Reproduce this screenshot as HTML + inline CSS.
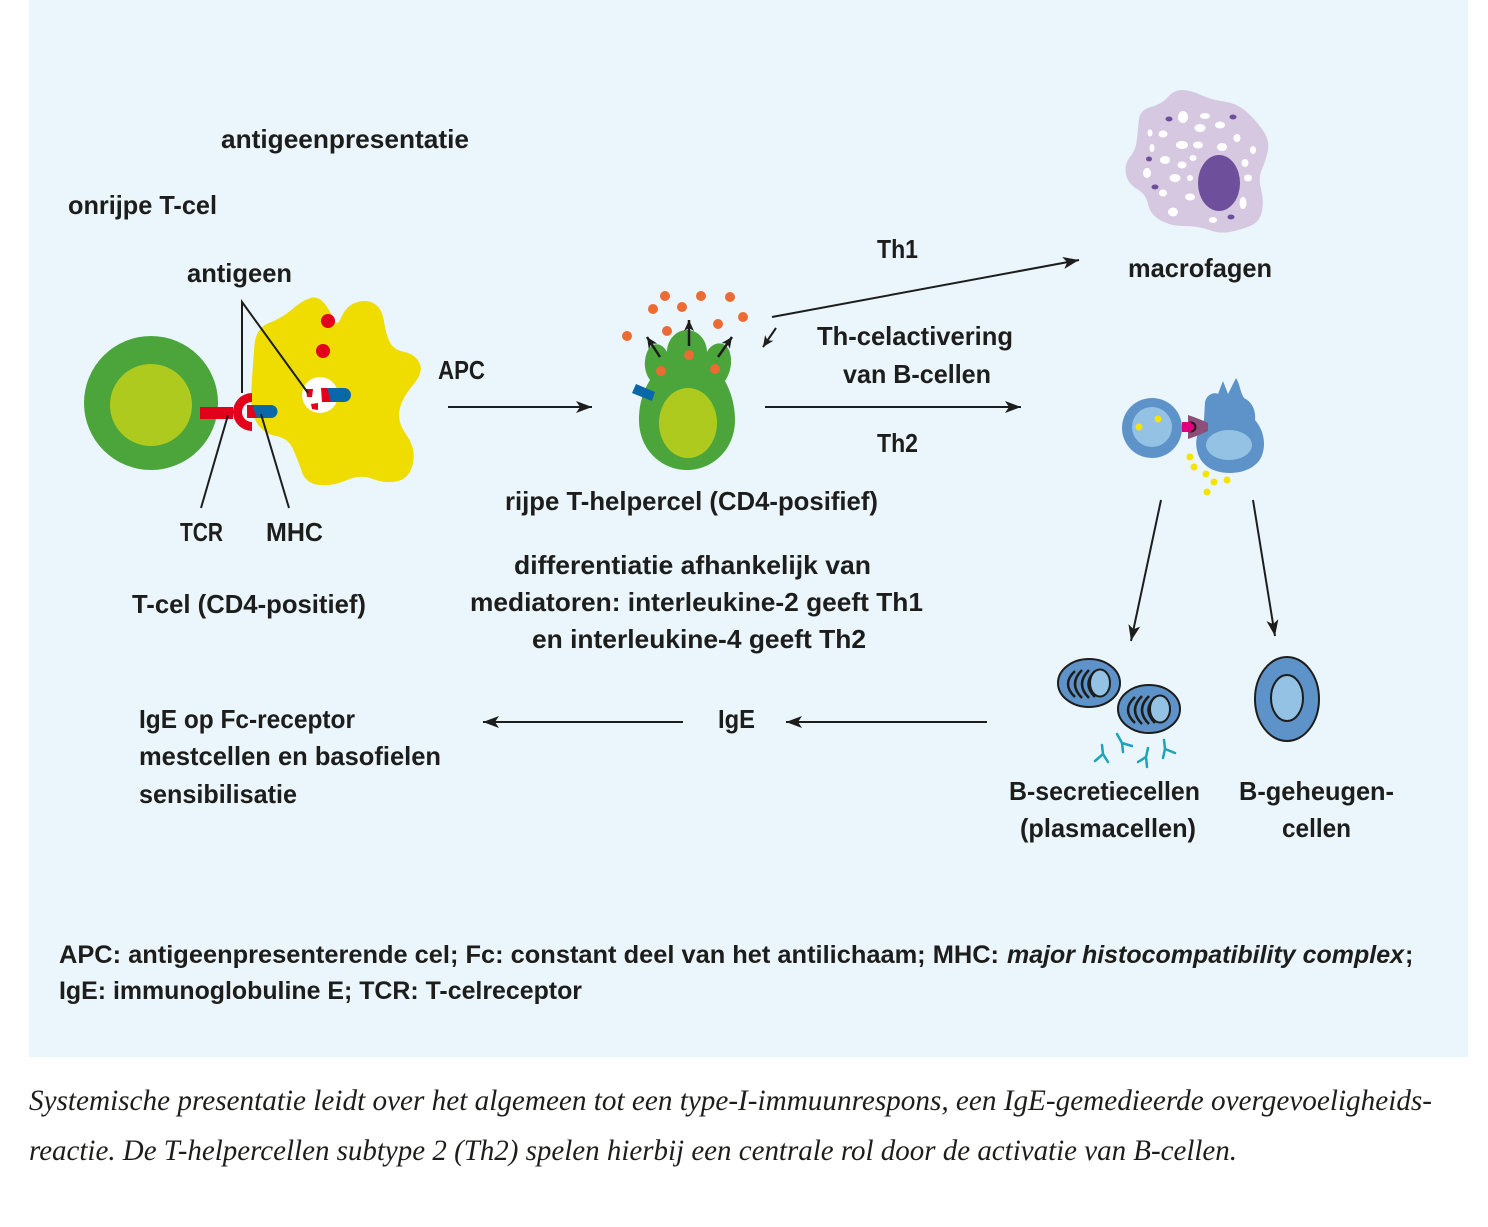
<!DOCTYPE html>
<html>
<head>
<meta charset="utf-8">
<style>
  html,body{margin:0;padding:0;background:#fff;}
  svg{display:block;}
  .t{font-family:"Liberation Sans",sans-serif;font-weight:bold;font-size:26px;fill:#1d1d1b;}
  .f{font-family:"Liberation Sans",sans-serif;font-weight:bold;font-size:25px;fill:#1d1d1b;}
  .fi{font-family:"Liberation Sans",sans-serif;font-weight:bold;font-style:italic;font-size:25px;fill:#1d1d1b;}
  .c{font-family:"Liberation Serif",serif;font-style:italic;font-size:30px;fill:#1d1d1b;}
</style>
</head>
<body>
<svg width="1488" height="1227" viewBox="0 0 1488 1227" xmlns="http://www.w3.org/2000/svg">
  <defs>
    <marker id="ah" markerUnits="userSpaceOnUse" markerWidth="18" markerHeight="14" refX="16" refY="7" orient="auto">
      <path d="M0,1 L16,7 L0,13 L4,7 Z" fill="#1d1d1b"/>
    </marker>
    <marker id="as" markerUnits="userSpaceOnUse" markerWidth="13" markerHeight="12" refX="11" refY="5" orient="auto">
      <path d="M0,0 L11,5 L0,10 L3,5 Z" fill="#1d1d1b"/>
    </marker>
  </defs>

  <rect x="0" y="0" width="1488" height="1227" fill="#ffffff"/>
  <rect x="29" y="0" width="1439" height="1057" fill="#eaf5fc"/>

  <!-- ============ Left: T-cel + APC ============ -->
  <circle cx="151" cy="403" r="67" fill="#4ca53b"/>
  <circle cx="151" cy="405" r="41" fill="#afca1e"/>

  <path d="M310.5,298 Q318,296 324,303 Q330,310 333.5,319 Q337,328 341.5,317 Q346,306 356,302.5 Q366,299 374,303.5 Q382,308 384,321.5 Q386,335 390,342.5 Q394,350 404.5,352 Q415,354 419.5,363 Q424,372 413,385 Q402,398 399.5,410 Q397,422 406.5,435 Q416,448 413,463 Q410,478 398,481 Q386,484 373,479 Q360,474 347,480 Q334,486 320,485 Q306,484 302,472 Q298,460 293,449 Q288,438 276,436 Q264,434 257,423 Q250,412 251.5,387 Q253,362 254.5,345 Q256,328 269,323 Q282,318 292.5,309 Q303,300 310.5,298 Z" fill="#efdc00"/>

  <circle cx="328" cy="321" r="7" fill="#e2001a"/>
  <circle cx="323" cy="351" r="7" fill="#e2001a"/>

  <!-- antigen in APC -->
  <circle cx="320" cy="395" r="18" fill="#ffffff"/>
  <path d="M327,388 L344,388 A7,7 0 0 1 344,402 L327,402 Z" fill="#0a67a8"/>
  <polygon points="321,388 327,388 331,402 322,402" fill="#e2001a"/>
  <polygon points="306,389 313,389 312,397 307,397" fill="#e2001a"/>
  <polygon points="311,404 318,403 318,410 312,409" fill="#e2001a"/>

  <!-- TCR + MHC -->
  <rect x="200" y="407" width="33" height="12" fill="#e2001a"/>
  <path d="M252,393 A19,19 0 0 0 252,431 L252,422 A10,10 0 0 1 252,402 Z" fill="#e2001a"/>
  <path d="M247,405 L271,405 A6.5,6.5 0 0 1 271,418 L247,418 Z" fill="#0a67a8"/>
  <polygon points="247,405 252,405 257,418 248,418" fill="#e2001a"/>

  <!-- label lines -->
  <g stroke="#1d1d1b" stroke-width="2" fill="none">
    <polyline points="242,393 242,302 308,393"/>
    <line x1="201" y1="508" x2="228" y2="415"/>
    <line x1="289" y1="508" x2="261" y2="414"/>
  </g>

  <!-- ============ T-helper cell ============ -->
  <path d="M687,470 C662,470 639,450 639,420 C639,402 644,390 650,380 C644,372 643,360 648,350 C652,342 662,342 667,352 C667,340 676,330 687,330 C698,330 707,340 707,352 C712,342 724,340 729,350 C733,360 731,372 725,381 C731,392 735,405 735,420 C735,450 712,470 687,470 Z" fill="#4ca53b"/>
  <ellipse cx="688" cy="423" rx="29" ry="35" fill="#afca1e"/>
  <polygon points="636,384 655,392 652,401 632,393" fill="#0a67a8"/>
  <g fill="#eb6b32">
    <circle cx="661" cy="371" r="5"/>
    <circle cx="689" cy="355" r="5"/>
    <circle cx="715" cy="369" r="5"/>
    <circle cx="627" cy="336" r="5"/>
    <circle cx="653" cy="309" r="5"/>
    <circle cx="665" cy="296" r="5"/>
    <circle cx="682" cy="307" r="5"/>
    <circle cx="701" cy="296" r="5"/>
    <circle cx="730" cy="297" r="5"/>
    <circle cx="743" cy="317" r="5"/>
    <circle cx="718" cy="324" r="5"/>
    <circle cx="667" cy="331" r="5"/>
  </g>
  <g stroke="#1d1d1b" stroke-width="2.5" fill="none">
    <line x1="660" y1="357" x2="647" y2="337" marker-end="url(#as)"/>
    <line x1="689" y1="346" x2="689" y2="320" marker-end="url(#as)"/>
    <line x1="718" y1="357" x2="732" y2="337" marker-end="url(#as)"/>
  </g>

  <!-- ============ Macrophage ============ -->
  <path d="M1201,95 Q1212,100 1224,101.5 Q1236,103 1245,110.5 Q1254,118 1262,129 Q1270,140 1268,150 Q1266,160 1262,169 Q1258,178 1261,189 Q1264,200 1262,211 Q1260,222 1250,226 Q1240,230 1230,232 Q1220,234 1209,230 Q1198,226 1184,226 Q1170,226 1160,220 Q1150,214 1148,204 Q1146,194 1137,189 Q1128,184 1126,174 Q1124,164 1130,157 Q1136,150 1137,139 Q1138,128 1139,119 Q1140,110 1151,107 Q1162,104 1168,97 Q1174,90 1182,90 Q1190,90 1201,95 Z" fill="#d6c8e0"/>
  <g fill="#ffffff">
    <ellipse cx="1183" cy="117" rx="5" ry="6"/>
    <ellipse cx="1205" cy="116" rx="5" ry="3"/>
    <ellipse cx="1200" cy="128" rx="5.5" ry="4"/>
    <ellipse cx="1220" cy="125" rx="5" ry="3.5"/>
    <ellipse cx="1163" cy="134" rx="4.5" ry="3.5"/>
    <ellipse cx="1150" cy="133" rx="2.5" ry="3.5"/>
    <ellipse cx="1182" cy="145" rx="6" ry="4"/>
    <ellipse cx="1198" cy="145" rx="5" ry="3.5"/>
    <ellipse cx="1222" cy="147" rx="5" ry="4"/>
    <ellipse cx="1237" cy="138" rx="3.5" ry="4"/>
    <ellipse cx="1253" cy="150" rx="3" ry="4"/>
    <ellipse cx="1152" cy="148" rx="2.5" ry="4"/>
    <ellipse cx="1165" cy="160" rx="5" ry="4"/>
    <ellipse cx="1182" cy="165" rx="4.5" ry="3.5"/>
    <ellipse cx="1193" cy="158" rx="3.5" ry="3"/>
    <ellipse cx="1245" cy="163" rx="3.5" ry="4"/>
    <ellipse cx="1147" cy="173" rx="4" ry="5"/>
    <ellipse cx="1175" cy="178" rx="5.5" ry="4"/>
    <ellipse cx="1190" cy="178" rx="3" ry="3"/>
    <ellipse cx="1248" cy="178" rx="4" ry="3.5"/>
    <ellipse cx="1163" cy="193" rx="4" ry="3.5"/>
    <ellipse cx="1190" cy="197" rx="5" ry="3.5"/>
    <ellipse cx="1243" cy="203" rx="3.5" ry="6"/>
    <ellipse cx="1173" cy="212" rx="5" ry="4.5"/>
    <ellipse cx="1213" cy="220" rx="4" ry="3"/>
  </g>
  <g fill="#6e4f9b">
    <ellipse cx="1169" cy="119" rx="3.5" ry="2.5"/>
    <ellipse cx="1233" cy="117" rx="3.5" ry="2.5"/>
    <ellipse cx="1149" cy="159" rx="3" ry="2.5"/>
    <ellipse cx="1155" cy="187" rx="3.5" ry="2.5"/>
    <ellipse cx="1231" cy="217" rx="3.5" ry="2.5"/>
  </g>
  <ellipse cx="1219" cy="183" rx="21" ry="28" fill="#6e4f9b"/>

  <!-- ============ B-cell activation ============ -->
  <circle cx="1152" cy="428" r="30" fill="#5d93c8"/>
  <circle cx="1152" cy="427" r="20" fill="#93c2e4"/>
  <circle cx="1139" cy="427" r="3.5" fill="#f4e400"/>
  <circle cx="1158" cy="419" r="3.5" fill="#f4e400"/>
  <path d="M1197,450 C1194,438 1200,428 1204,420 L1205,402 C1207,394 1214,392 1218,394 L1223,381 L1228,394 L1236,378 C1240,384 1240,392 1244,398 C1252,402 1256,410 1255,420 C1262,428 1266,440 1263,452 C1260,466 1245,473 1230,473 C1214,473 1200,466 1197,450 Z" fill="#5d93c8"/>
  <ellipse cx="1229" cy="445" rx="23" ry="15" fill="#93c2e4"/>
  <path d="M1188,415 Q1200,419 1208,423 L1208,431 Q1200,435 1188,439 Z" fill="#8c4f7a"/>
  <circle cx="1191" cy="427" r="5.5" fill="#1d1d1b"/>
  <rect x="1182" y="422" width="9" height="10" fill="#e0007c"/>
  <circle cx="1191" cy="427" r="3.5" fill="#e0007c"/>
  <g fill="#f4e400">
    <circle cx="1190" cy="457" r="3.5"/>
    <circle cx="1194" cy="467" r="3.5"/>
    <circle cx="1206" cy="474" r="3.5"/>
    <circle cx="1214" cy="482" r="3.5"/>
    <circle cx="1227" cy="480" r="3.5"/>
    <circle cx="1207" cy="492" r="3.5"/>
  </g>

  <!-- ============ Plasma cells ============ -->
  <ellipse cx="1089" cy="683" rx="31" ry="24" fill="#5d93c8" stroke="#1d1d1b" stroke-width="2"/>
  <g stroke="#1d1d1b" stroke-width="2.5" fill="none">
    <path d="M1075,671 Q1061,684 1075,697"/>
    <path d="M1082,670 Q1068,684 1082,698"/>
    <path d="M1089,670 Q1075,684 1089,698"/>
    <path d="M1095,671 Q1082,684 1095,697"/>
  </g>
  <ellipse cx="1100" cy="683" rx="10" ry="13.5" fill="#93c2e4" stroke="#1d1d1b" stroke-width="2"/>

  <ellipse cx="1149" cy="709" rx="31" ry="24" fill="#5d93c8" stroke="#1d1d1b" stroke-width="2"/>
  <g stroke="#1d1d1b" stroke-width="2.5" fill="none">
    <path d="M1135,697 Q1121,710 1135,723"/>
    <path d="M1142,696 Q1128,710 1142,724"/>
    <path d="M1149,696 Q1135,710 1149,724"/>
    <path d="M1155,697 Q1142,710 1155,723"/>
  </g>
  <ellipse cx="1160" cy="709" rx="10" ry="13.5" fill="#93c2e4" stroke="#1d1d1b" stroke-width="2"/>

  <!-- antibodies -->
  <g stroke="#1ba5b8" stroke-width="2.5" fill="none" stroke-linecap="round">
    <path d="M1102,745 L1103,754 M1095,761 L1103,754 L1108,762"/>
    <path d="M1117,734 L1122,743 M1123,752 L1122,743 L1132,746"/>
    <path d="M1148,748 L1146,757 M1138,762 L1146,757 L1147,767"/>
    <path d="M1164,740 L1165,749 M1163,758 L1165,749 L1175,753"/>
  </g>

  <!-- memory B cell -->
  <ellipse cx="1287" cy="699" rx="32" ry="42" fill="#5d93c8" stroke="#1d1d1b" stroke-width="2"/>
  <ellipse cx="1287" cy="698" rx="16" ry="23" fill="#93c2e4" stroke="#1d1d1b" stroke-width="2"/>

  <!-- ============ Arrows ============ -->
  <g stroke="#1d1d1b" stroke-width="2" fill="none">
    <line x1="448" y1="407" x2="592" y2="407" marker-end="url(#ah)"/>
    <line x1="765" y1="407" x2="1021" y2="407" marker-end="url(#ah)"/>
    <line x1="772" y1="317" x2="1079" y2="260" marker-end="url(#ah)"/>
    <line x1="776" y1="328" x2="763" y2="347" marker-end="url(#as)"/>
    <line x1="987" y1="722" x2="786" y2="722" marker-end="url(#ah)"/>
    <line x1="683" y1="722" x2="483" y2="722" marker-end="url(#ah)"/>
    <line x1="1161" y1="500" x2="1131" y2="641" marker-end="url(#ah)"/>
    <line x1="1253" y1="500" x2="1275" y2="636" marker-end="url(#ah)"/>
  </g>

  <!-- ============ Labels ============ -->
  <text class="t" x="221" y="148" textLength="248" lengthAdjust="spacingAndGlyphs">antigeenpresentatie</text>
  <text class="t" x="68" y="214" textLength="149" lengthAdjust="spacingAndGlyphs">onrijpe T-cel</text>
  <text class="t" x="187" y="282" textLength="105" lengthAdjust="spacingAndGlyphs">antigeen</text>
  <text class="t" x="438" y="379" textLength="47" lengthAdjust="spacingAndGlyphs">APC</text>
  <text class="t" x="180" y="541" textLength="43" lengthAdjust="spacingAndGlyphs">TCR</text>
  <text class="t" x="266" y="541" textLength="57" lengthAdjust="spacingAndGlyphs">MHC</text>
  <text class="t" x="132" y="613" textLength="234" lengthAdjust="spacingAndGlyphs">T-cel (CD4-positief)</text>

  <text class="t" x="505" y="510" textLength="373" lengthAdjust="spacingAndGlyphs">rijpe T-helpercel (CD4-posifief)</text>
  <text class="t" x="514" y="574" textLength="357" lengthAdjust="spacingAndGlyphs">differentiatie afhankelijk van</text>
  <text class="t" x="470" y="611" textLength="453" lengthAdjust="spacingAndGlyphs">mediatoren: interleukine-2 geeft Th1</text>
  <text class="t" x="532" y="648" textLength="334" lengthAdjust="spacingAndGlyphs">en interleukine-4 geeft Th2</text>

  <text class="t" x="877" y="258" textLength="41" lengthAdjust="spacingAndGlyphs">Th1</text>
  <text class="t" x="817" y="345" textLength="196" lengthAdjust="spacingAndGlyphs">Th-celactivering</text>
  <text class="t" x="843" y="383" textLength="148" lengthAdjust="spacingAndGlyphs">van B-cellen</text>
  <text class="t" x="877" y="452" textLength="41" lengthAdjust="spacingAndGlyphs">Th2</text>
  <text class="t" x="1128" y="277" textLength="144" lengthAdjust="spacingAndGlyphs">macrofagen</text>

  <text class="t" x="139" y="728" textLength="216" lengthAdjust="spacingAndGlyphs">IgE op Fc-receptor</text>
  <text class="t" x="139" y="765" textLength="302" lengthAdjust="spacingAndGlyphs">mestcellen en basofielen</text>
  <text class="t" x="139" y="803" textLength="158" lengthAdjust="spacingAndGlyphs">sensibilisatie</text>
  <text class="t" x="718" y="728" textLength="37" lengthAdjust="spacingAndGlyphs">IgE</text>

  <text class="t" x="1009" y="800" textLength="191" lengthAdjust="spacingAndGlyphs">B-secretiecellen</text>
  <text class="t" x="1020" y="837" textLength="176" lengthAdjust="spacingAndGlyphs">(plasmacellen)</text>
  <text class="t" x="1239" y="800" textLength="155" lengthAdjust="spacingAndGlyphs">B-geheugen-</text>
  <text class="t" x="1282" y="837" textLength="69" lengthAdjust="spacingAndGlyphs">cellen</text>

  <!-- footer legend -->
  <text class="f" x="59" y="963" textLength="940" lengthAdjust="spacingAndGlyphs">APC: antigeenpresenterende cel; Fc: constant deel van het antilichaam; MHC:</text>
  <text class="fi" x="1007" y="963" textLength="397" lengthAdjust="spacingAndGlyphs">major histocompatibility complex</text>
  <text class="f" x="1405" y="963">;</text>
  <text class="f" x="59" y="999" textLength="523" lengthAdjust="spacingAndGlyphs">IgE: immunoglobuline E; TCR: T-celreceptor</text>

  <!-- caption -->
  <text class="c" x="29" y="1110" textLength="1403" lengthAdjust="spacingAndGlyphs">Systemische presentatie leidt over het algemeen tot een type-I-immuunrespons, een IgE-gemedieerde overgevoeligheids-</text>
  <text class="c" x="29" y="1160" textLength="1208" lengthAdjust="spacingAndGlyphs">reactie. De T-helpercellen subtype 2 (Th2) spelen hierbij een centrale rol door de activatie van B-cellen.</text>
</svg>
</body>
</html>
